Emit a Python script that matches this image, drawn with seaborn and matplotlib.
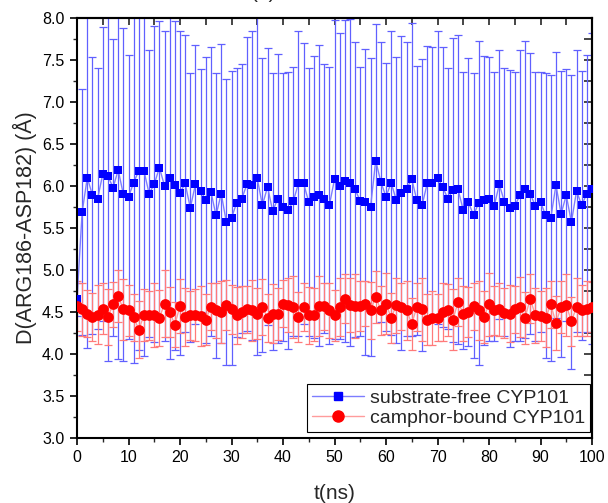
import matplotlib
matplotlib.use("Agg")
import matplotlib.pyplot as plt
import numpy as np
import pandas as pd
import seaborn as sns
from matplotlib.lines import Line2D
from matplotlib.ticker import MultipleLocator, FormatStrFormatter

# ---------------- data ----------------
time_ns = list(range(0, 101))

free_mean = [4.65, 5.69, 6.10, 5.89, 5.85, 6.14, 6.12, 5.98, 6.19, 5.90,
             5.87, 6.04, 6.18, 6.18, 5.91, 6.02, 6.22, 6.00, 6.09, 6.01,
             5.92, 6.03, 5.74, 6.02, 5.945, 5.83, 5.93, 5.65, 5.91, 5.57,
             5.62, 5.80, 5.85, 6.02, 6.01, 6.09, 5.77, 5.99, 5.70, 5.85,
             5.75, 5.71, 5.82, 6.03, 6.03, 5.81, 5.87, 5.89, 5.85, 5.77,
             6.08, 6.00, 6.06, 6.04, 5.96, 5.82, 5.81, 5.75, 6.30, 6.05,
             5.87, 6.04, 5.83, 5.92, 5.97, 6.08, 5.83, 5.77, 6.03, 6.03,
             6.10, 5.99, 5.85, 5.95, 5.96, 5.71, 5.81, 5.65, 5.80, 5.83,
             5.84, 5.76, 6.02, 5.81, 5.735, 5.76, 5.89, 5.96, 5.91, 5.76,
             5.81, 5.65, 5.62, 6.01, 5.67, 5.89, 5.57, 5.94, 5.77, 5.91,
             5.97]

free_sd = [0.20, 1.46, 2.03, 1.65, 1.55, 1.75, 2.20, 1.77, 2.25, 1.98,
           1.69, 2.15, 2.13, 2.20, 1.71, 1.88, 1.75, 1.85, 2.15, 1.96,
           1.93, 1.77, 1.60, 1.66, 1.45, 1.70, 1.72, 1.70, 1.78, 1.70,
           1.75, 1.60, 1.60, 1.75, 1.84, 2.10, 1.75, 1.65, 1.65, 1.72,
           1.60, 1.65, 1.60, 1.81, 1.67, 1.60, 1.68, 1.79, 1.60, 1.65,
           1.90, 1.82, 1.92, 1.95, 1.76, 1.60, 1.82, 1.77, 1.63, 1.67,
           1.60, 1.81, 1.70, 1.87, 1.75, 1.86, 1.60, 1.74, 1.64, 1.63,
           1.74, 1.67, 1.55, 1.81, 1.84, 1.65, 1.71, 1.70, 1.93, 1.72,
           1.69, 1.60, 1.60, 1.60, 1.65, 1.60, 1.73, 1.77, 1.67, 1.60,
           1.55, 1.70, 1.70, 1.58, 1.70, 1.50, 1.75, 1.68, 1.60, 1.65,
           1.85]

bound_mean = [4.57, 4.53, 4.48, 4.44, 4.47, 4.54, 4.44, 4.59, 4.69, 4.53,
              4.52, 4.44, 4.29, 4.46, 4.46, 4.46, 4.43, 4.60, 4.50, 4.35,
              4.57, 4.44, 4.46, 4.46, 4.45, 4.41, 4.56, 4.52, 4.50, 4.58,
              4.53, 4.46, 4.50, 4.53, 4.52, 4.48, 4.56, 4.43, 4.48, 4.48,
              4.60, 4.58, 4.56, 4.44, 4.56, 4.46, 4.47, 4.57, 4.57, 4.52,
              4.46, 4.56, 4.66, 4.58, 4.57, 4.57, 4.60, 4.52, 4.68, 4.52,
              4.60, 4.43, 4.58, 4.56, 4.52, 4.36, 4.56, 4.53, 4.41, 4.43,
              4.43, 4.50, 4.52, 4.41, 4.62, 4.48, 4.50, 4.57, 4.52, 4.44,
              4.59, 4.52, 4.53, 4.49, 4.48, 4.53, 4.56, 4.43, 4.66, 4.46,
              4.45, 4.43, 4.59, 4.37, 4.56, 4.58, 4.39, 4.56, 4.52, 4.54,
              4.56]

bound_sd = [0.30, 0.32, 0.28, 0.29, 0.35, 0.30, 0.33, 0.27, 0.31, 0.36,
            0.30, 0.28, 0.34, 0.31, 0.29, 0.38, 0.33, 0.40, 0.30, 0.27,
            0.32, 0.35, 0.29, 0.31, 0.36, 0.30, 0.28, 0.33, 0.37, 0.30,
            0.29, 0.34, 0.31, 0.28, 0.36, 0.30, 0.33, 0.29, 0.35, 0.31,
            0.28, 0.32, 0.37, 0.30, 0.29, 0.34, 0.31, 0.36, 0.28, 0.33,
            0.30, 0.35, 0.29, 0.32, 0.38, 0.30, 0.27, 0.34, 0.31, 0.29,
            0.36, 0.30, 0.33, 0.28, 0.35, 0.31, 0.29, 0.37, 0.30, 0.32,
            0.28, 0.34, 0.31, 0.36, 0.29, 0.33, 0.30, 0.28, 0.35, 0.31,
            0.37, 0.29, 0.32, 0.30, 0.34, 0.28, 0.36, 0.31, 0.29, 0.33,
            0.30, 0.35, 0.28, 0.32, 0.31, 0.37, 0.29, 0.34, 0.30, 0.33,
            0.30]

series_labels = ["substrate-free CYP101", "camphor-bound CYP101"]
x_ticks = [0, 10, 20, 30, 40, 50, 60, 70, 80, 90, 100]
y_ticks = [3.0, 3.5, 4.0, 4.5, 5.0, 5.5, 6.0, 6.5, 7.0, 7.5, 8.0]

n = len(time_ns)
df = pd.DataFrame({
    "t": time_ns + time_ns,
    "D": free_mean + bound_mean,
    "sd": free_sd + bound_sd,
    "series": [series_labels[0]] * n + [series_labels[1]] * n,
})

# ---------------- styling ----------------
sns.set_theme(style="ticks")
plt.rcParams["font.family"] = ["Liberation Sans", "DejaVu Sans"]

marker_col = {series_labels[0]: "#0000ff", series_labels[1]: "#ff0000"}
line_col = {series_labels[0]: "#7d7dff", series_labels[1]: "#ff9c9c"}
err_col = {series_labels[0]: "#6060ff", series_labels[1]: "#ff7a7a"}
markers = {series_labels[0]: "s", series_labels[1]: "o"}
msize = {series_labels[0]: 28, series_labels[1]: 60}

fig = plt.figure(figsize=(6.08, 5.03), dpi=100)
ax = fig.add_axes([77 / 608, 1 - 438 / 503, 515 / 608, 420 / 503])

# error bars
for lab in series_labels:
    sub = df[df["series"] == lab]
    ax.errorbar(sub["t"], sub["D"], yerr=sub["sd"], fmt="none",
                ecolor=err_col[lab], elinewidth=0.9, capsize=3.0,
                capthick=0.9, zorder=1)

# connecting lines
sns.lineplot(data=df, x="t", y="D", hue="series", palette=line_col,
             linewidth=1.0, estimator=None, sort=False, legend=False,
             ax=ax, zorder=2)

# markers
for lab in series_labels:
    sub = df[df["series"] == lab]
    sns.scatterplot(data=sub, x="t", y="D", color=marker_col[lab],
                    marker=markers[lab], s=msize[lab], linewidth=0,
                    legend=False, ax=ax, zorder=3)

ax.set_xlim(0, 100)
ax.set_ylim(3.0, 8.0)
ax.set_xticks(x_ticks)
ax.set_yticks(y_ticks)
ax.xaxis.set_minor_locator(MultipleLocator(5))
ax.yaxis.set_minor_locator(MultipleLocator(0.25))
ax.yaxis.set_major_formatter(FormatStrFormatter("%.1f"))
ax.tick_params(which="major", direction="out", length=5, width=1.2,
               labelsize=11.5, colors="black", pad=4)
ax.tick_params(which="minor", direction="out", length=3, width=1.0)
for sp in ax.spines.values():
    sp.set_linewidth(1.5)
    sp.set_color("black")
    sp.set_visible(True)

secx = ax.secondary_xaxis("top")
secx.xaxis.set_major_locator(MultipleLocator(5))
secx.tick_params(direction="in", length=5, width=1.2, labeltop=False)
secx.spines["top"].set_linewidth(1.5)
secy = ax.secondary_yaxis("right")
secy.yaxis.set_major_locator(MultipleLocator(0.25))
secy.tick_params(direction="in", length=6, width=1.2, labelright=False)
secy.spines["right"].set_linewidth(1.5)

ax.set_xlabel("t(ns)", fontsize=15, labelpad=13)
ax.set_ylabel("D(ARG186-ASP182) (Å)", fontsize=15.5, labelpad=4)

handles = [
    Line2D([0], [0], color=line_col[lab], lw=1.0, marker=markers[lab],
           markerfacecolor=marker_col[lab], markeredgecolor=marker_col[lab],
           markersize=6 if lab == series_labels[0] else 8)
    for lab in series_labels
]
leg = ax.legend(handles, series_labels, loc="lower right",
                bbox_to_anchor=((590 - 77) / 515, (438 - 432) / 420),
                borderaxespad=0, fontsize=14, frameon=True, fancybox=False,
                edgecolor="black", framealpha=1, handlelength=2.7,
                handletextpad=0.3, labelspacing=0.15, borderpad=0.25)
leg.get_frame().set_linewidth(0.8)
leg.set_zorder(5)

fig.text(263 / 608, 1.014, "(a)", ha="center", va="center", fontsize=15)

fig.savefig("out.png", dpi=100)
